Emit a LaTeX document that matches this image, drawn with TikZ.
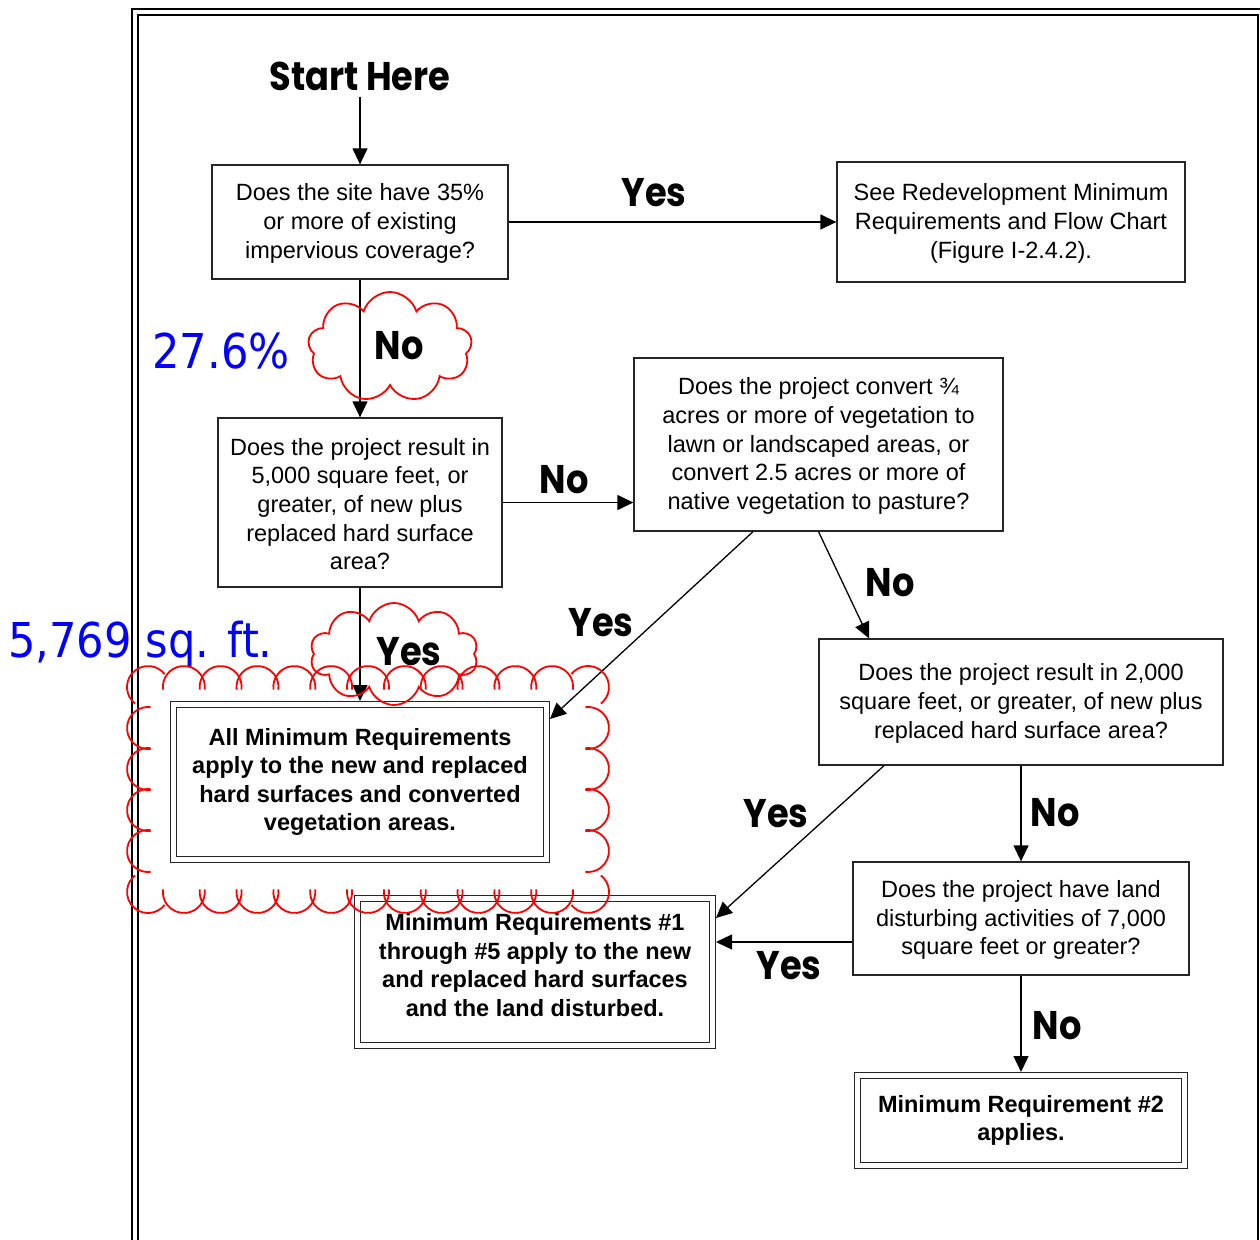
\documentclass[tikz,border=0pt]{standalone}
\usepackage{fontspec}
\setmainfont{Liberation Sans}
\newfontfamily\labelfont[FakeStretch=0.88]{Poppins}
\newfontfamily\bluefont[FakeStretch=0.9]{DejaVu Sans}
\usetikzlibrary{arrows.meta,shapes.symbols,calc}
\tikzset{
 qbox/.style={draw=black!85, line width=1.3pt, inner sep=0pt, align=center,
   font=\fontsize{23.5}{28.6}\selectfont, fill=white},
 abox/.style={draw=black!85, line width=1.3pt, double, double distance=4.4pt,
   inner sep=0pt, outer sep=3.5pt, align=center,
   font=\fontsize{23.5}{28.5}\selectfont\bfseries, fill=white},
 conn/.style={line width=1.3pt, -{Triangle[length=16pt,width=15pt]}},
 lbl/.style={font=\labelfont\bfseries\fontsize{40}{40}\selectfont, inner sep=0pt},
 bluetxt/.style={text=blue, font=\bluefont\fontsize{48}{48}\selectfont, inner sep=0pt},
 cloudline/.style={draw=red, line width=1.8pt},
 frameline/.style={line width=2.1pt},
}
\newcommand\cloudbump[3]{% x, y, normal angle
  \draw[cloudline] (#1,#2) ++(#3-97:21) arc[start angle=#3-97, end angle=#3+97, radius=21];}
\begin{document}
\begin{tikzpicture}[x=1pt,y=-1pt]
\useasboundingbox (0,0) rectangle (1260,1239);
\fill[white] (0,0) rectangle (1260,1239);

% frame
\draw[frameline] (132,1245) -- (132,9) -- (1265,9);
\draw[frameline] (138,1245) -- (138,15) -- (1258,15) -- (1258,1245);

% title
\node[lbl] (start) at (360,76) {Start Here};

% boxes
\node[qbox, minimum width=296pt, minimum height=114pt] (A) at (360,222)
  {\strut Does the site have 35\%\\or more of existing\\impervious coverage?};
\node[qbox, minimum width=348pt, minimum height=120pt] (B) at (1011,222)
  {\strut See Redevelopment Minimum\\Requirements and Flow Chart\\(Figure I-2.4.2).};
\node[qbox, minimum width=284pt, minimum height=169pt] (C) at (360,502.5)
  {\strut Does the project result in\\5,000 square feet, or\\greater, of new plus\\replaced hard surface\\area?};
\node[qbox, minimum width=369pt, minimum height=173pt] (D) at (818.5,444.5)
  {\strut Does the project convert ¾\\acres or more of vegetation to\\lawn or landscaped areas, or\\convert 2.5 acres or more of\\native vegetation to pasture?};
\node[qbox, minimum width=404pt, minimum height=126pt] (E) at (1021,702)
  {\strut Does the project result in 2,000\\square feet, or greater, of new plus\\replaced hard surface area?};
\node[abox, minimum width=373pt, minimum height=155pt] (F) at (360,782)
  {All Minimum Requirements\\apply to the new and replaced\\hard surfaces and converted\\vegetation areas.};
\node[abox, minimum width=355pt, minimum height=147pt] (G) at (535,972)
  {\raisebox{4pt}[\height][\depth]{\begin{tabular}{@{}c@{}}Minimum Requirements \#1\\through \#5 apply to the new\\and replaced hard surfaces\\and the land disturbed.\end{tabular}}};
\node[qbox, minimum width=336pt, minimum height=113pt] (H) at (1021,918.5)
  {\strut Does the project have land\\disturbing activities of 7,000\\square feet or greater?};
\node[abox, minimum width=327pt, minimum height=90pt] (I) at (1021,1120.5)
  {Minimum Requirement \#2\\applies.};

% connectors
\draw[conn, shorten <=6pt] (start.south) -- (A.north);
\draw[conn] (A.east) -- (B.west);
\draw[conn] (A.south) -- (C.north);
\draw[conn] (C.east) -- (C.east -| D.west);
\coordinate (d1) at ([xshift=-65.5pt]D.south);
\draw[conn] (d1) -- ([yshift=-18pt]F.north east);
\coordinate (d2) at (D.south);
\draw[conn] (d2) -- ([xshift=-152pt]E.north);
\draw[conn] (C.south) -- (F.north);
\coordinate (e1) at ([xshift=-137pt]E.south);
\draw[conn] (e1) -- ([yshift=-23pt]G.north east);
\draw[conn] (E.south) -- (H.north);
\coordinate (h1) at ([yshift=-23.5pt]H.west);
\draw[conn] (h1) -- (h1 -| G.east);
\draw[conn] (H.south) -- (I.north);

% connector labels
\node[lbl] (lyes1) at (654,193) {Yes};
\node[lbl] (lno1) at (399,346) {No};
\node[lbl] (lno2) at (564,480) {No};
\node[lbl] (lyes2) at (601,623) {Yes};
\node[lbl] (lno3) at (890,583) {No};
\node[lbl] (lyes3) at (409,652) {Yes};
\node[lbl] (lyes4) at (776,814) {Yes};
\node[lbl] (lno4) at (1055,813) {No};
\node[lbl] (lyes5) at (789,966) {Yes};
\node[lbl] (lno5) at (1057,1026) {No};

% blue annotations
\node[bluetxt] (pct) at (221,351) {27.6\%};
\node[bluetxt, anchor=west] (sqft) at (8,644) {5,769 sq. ft.};

% small clouds
\node[cloud, cloudline, cloud puffs=9, cloud puff arc=145, cloud ignores aspect,
  minimum width=164pt, minimum height=110pt, inner sep=0pt] (cloudNo) at (390,347) {};
\node[cloud, cloudline, cloud puffs=10, cloud puff arc=145, cloud ignores aspect,
  minimum width=168pt, minimum height=102pt, inner sep=0pt] (cloudYes) at (394,654) {};

% big rectangular cloud
\foreach \k in {1,...,11} {
  \pgfmathsetmacro\bx{147+\k*36.83}
  \cloudbump{\bx}{687}{-90}
  \cloudbump{\bx}{892}{90}
}
\foreach \k in {1,...,4} {
  \pgfmathsetmacro\by{687+\k*41}
  \cloudbump{148}{\by}{180}
  \cloudbump{588}{\by}{0}
}
\cloudbump{148}{687}{-135}
\cloudbump{588}{687}{-45}
\cloudbump{588}{892}{45}
\cloudbump{148}{892}{135}
\end{tikzpicture}
\end{document}
